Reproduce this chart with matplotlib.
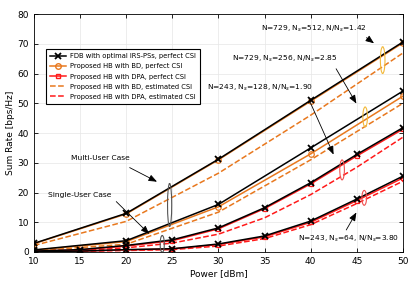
import numpy as np
import matplotlib
matplotlib.use("Agg")
import matplotlib.pyplot as plt
from matplotlib.patches import Ellipse

# power axis
p_coarse = [10, 20, 30, 40, 50]
p_fine = [10, 15, 20, 25, 30, 35, 40, 45, 50]

# N=729, Ns=512
fdb_a = [2.9, 13.0, 31.2, 51.0, 70.6]
bd_a = [2.8, 12.8, 31.0, 50.7, 70.3]
bd_a_est = [2.2, 10.3, 26.5, 46.0, 66.9]

# N=729, Ns=256
fdb_b = [0.7, 3.8, 16.0, 35.0, 54.1]
bd_b = [0.6, 3.5, 15.2, 33.0, 52.4]
bd_b_est = [0.4, 2.6, 13.4, 31.0, 50.0]

# N=243, Ns=128
fdb_c = [0.3, 0.8, 2.2, 4.1, 8.1, 14.9, 23.3, 32.8, 41.8]
dpa_c = [0.3, 0.7, 2.0, 3.8, 7.8, 14.6, 22.9, 32.3, 41.3]
dpa_c_est = [0.2, 0.5, 1.4, 3.0, 6.0, 11.5, 19.3, 28.5, 38.6]

# N=243, Ns=64
fdb_d = [0.1, 0.3, 0.8, 1.1, 2.7, 5.4, 10.4, 17.8, 25.5]
dpa_d = [0.1, 0.3, 0.7, 1.0, 2.5, 5.1, 10.0, 17.3, 24.9]
dpa_d_est = [0.0, 0.2, 0.5, 0.8, 2.0, 4.5, 9.2, 16.3, 23.8]

black = "k"
orange = "#E8781E"
red = "#FF1A1A"

fig = plt.figure(figsize=(4.15, 2.92), dpi=100)
ax = fig.add_axes([0.082, 0.137, 0.889, 0.815])

for y in [bd_a_est, bd_b_est]:
    ax.plot(p_coarse, y, "--", color=orange, lw=1.1)
for y in [dpa_c_est, dpa_d_est]:
    ax.plot(p_fine, y, "--", color=red, lw=1.1)
for y in [bd_a, bd_b]:
    ax.plot(p_coarse, y, "-", color=orange, lw=1.1, marker="o", ms=4, mfc="none", mew=0.9)
for y in [dpa_c, dpa_d]:
    ax.plot(p_fine, y, "-", color=red, lw=1.1, marker="s", ms=3.5, mfc="none", mew=0.9)
ax.plot(p_coarse, fdb_a, "-", color=black, lw=1.1, marker="x", ms=4, mew=1.3)
ax.plot(p_coarse, fdb_b, "-", color=black, lw=1.1, marker="x", ms=4, mew=1.3)
ax.plot(p_fine, fdb_c, "-", color=black, lw=1.1, marker="x", ms=4, mew=1.3)
ax.plot(p_fine, fdb_d, "-", color=black, lw=1.1, marker="x", ms=4, mew=1.3)

# legend proxies
h1, = ax.plot([], [], "-", color=black, lw=1.1, marker="x", ms=4, mew=1.3)
h2, = ax.plot([], [], "-", color=orange, lw=1.1, marker="o", ms=4, mfc="none")
h3, = ax.plot([], [], "-", color=red, lw=1.1, marker="s", ms=3.5, mfc="none")
h4, = ax.plot([], [], "--", color=orange, lw=1.1)
h5, = ax.plot([], [], "--", color=red, lw=1.1)
leg = ax.legend([h1, h2, h3, h4, h5],
                ["FDB with optimal IRS-PSs, perfect CSI",
                 "Proposed HB with BD, perfect CSI",
                 "Proposed HB with DPA, perfect CSI",
                 "Proposed HB with BD, estimated CSI",
                 "Proposed HB with DPA, estimated CSI"],
                loc="upper left", bbox_to_anchor=(0.024, 0.866), fontsize=4.9,
                fancybox=False, edgecolor="k", framealpha=1,
                handlelength=2.3, handletextpad=0.6, borderpad=0.6,
                labelspacing=0.6)
leg.get_frame().set_linewidth(0.8)

# ellipses
ell = [(47.8, 64.5, 0.5, 9.0, "#F2B93B"),
       (45.9, 45.4, 0.5, 6.7, "#F2B93B"),
       (43.4, 27.6, 0.5, 6.7, "#F05050"),
       (45.8, 18.2, 0.5, 5.0, "#F05050"),
       (24.7, 15.8, 0.45, 14.5, "#555555"),
       (23.9, 2.7, 0.45, 5.7, "#555555")]
for cx, cy, w, h, c in ell:
    ax.add_patch(Ellipse((cx, cy), w, h, fill=False, ec=c, lw=0.8, zorder=5))

ap = dict(arrowstyle="-|>,head_length=0.5,head_width=0.2", color="k", lw=0.6)
fs = 5.4
ax.annotate("", xy=(47.1, 69.6), xytext=(45.8, 72.6), arrowprops=ap)
ax.text(40.3, 75.0, "N=729, N$_s$=512, N/N$_s$=1.42", fontsize=fs, ha="center", va="center")
ax.annotate("", xy=(45.1, 49.1), xytext=(42.6, 62.4), arrowprops=ap)
ax.text(37.2, 65.0, "N=729, N$_s$=256, N/N$_s$=2.85", fontsize=fs, ha="center", va="center")
ax.annotate("", xy=(42.6, 31.9), xytext=(39.7, 52.0), arrowprops=ap)
ax.text(34.5, 55.2, "N=243, N$_s$=128, N/N$_s$=1.90", fontsize=fs, ha="center", va="center")
ax.annotate("", xy=(45.1, 14.1), xytext=(43.7, 6.6), arrowprops=ap)
ax.text(44.1, 4.4, "N=243, N$_s$=64, N/N$_s$=3.80", fontsize=fs, ha="center", va="center")
ax.annotate("", xy=(23.6, 23.2), xytext=(20.1, 28.8), arrowprops=ap)
ax.text(17.2, 31.6, "Multi-User Case", fontsize=fs, ha="center", va="center")
ax.annotate("", xy=(22.7, 5.4), xytext=(18.7, 17.6), arrowprops=ap)
ax.text(15.0, 19.2, "Single-User Case", fontsize=fs, ha="center", va="center")

ax.set_xlim(10, 50)
ax.set_ylim(0, 80)
ax.set_xticks(np.arange(10, 51, 5))
ax.set_yticks(np.arange(0, 81, 10))
ax.tick_params(direction="in", labelsize=6.5, length=3, width=0.6, top=True, right=True)
ax.grid(True, color="#e6e6e6", lw=0.5)
ax.set_axisbelow(True)
for s in ax.spines.values():
    s.set_linewidth(0.6)
ax.set_xlabel("Power [dBm]", fontsize=6.5, labelpad=2)
ax.set_ylabel("Sum Rate [bps/Hz]", fontsize=6.5, labelpad=2)

fig.savefig("out.png", dpi=100)
